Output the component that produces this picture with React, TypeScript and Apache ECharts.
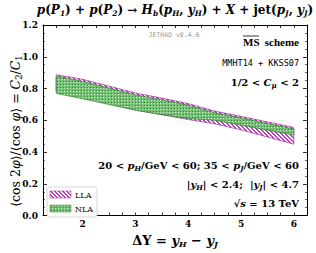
import React, { useEffect, useRef } from "react";
import * as echarts from "echarts";

const X_VALUES = [1.5, 2, 2.5, 3, 3.5, 4, 4.5, 5, 5.5, 6];
const LLA_HIGH = [0.887, 0.858, 0.815, 0.772, 0.74, 0.705, 0.658, 0.625, 0.59, 0.555];
const LLA_LOW = [0.78, 0.745, 0.705, 0.665, 0.635, 0.605, 0.578, 0.54, 0.495, 0.45];
const NLA_HIGH = [0.878, 0.845, 0.803, 0.76, 0.73, 0.695, 0.648, 0.615, 0.58, 0.545];
const NLA_LOW = [0.77, 0.735, 0.7, 0.663, 0.636, 0.612, 0.6, 0.57, 0.538, 0.507];
const Y_TICKS = [0, 0.2, 0.4, 0.6, 0.8, 1.0, 1.2];
const X_TICK_LABELS = [2, 3, 4, 5, 6];

const SERIF = "'DejaVu Serif', 'Liberation Serif', serif";
const TIMES = "'Liberation Serif', 'DejaVu Serif', serif";
const MONO = "'DejaVu Sans Mono', 'Liberation Mono', monospace";

function makeLLAPattern() {
  const c = document.createElement("canvas");
  c.width = 4;
  c.height = 4;
  const ctx = c.getContext("2d")!;
  ctx.fillStyle = "#ffffff";
  ctx.fillRect(0, 0, 4, 4);
  ctx.fillStyle = "#c040c0";
  for (let i = 0; i < 4; i++) {
    ctx.fillRect(i, i, 1, 1);
    ctx.fillRect(i, (i + 1) % 4, 1, 1);
  }
  return c;
}

function makeNLAPattern() {
  const c = document.createElement("canvas");
  c.width = 3;
  c.height = 3;
  const ctx = c.getContext("2d")!;
  ctx.fillStyle = "#74c074";
  ctx.fillRect(0, 0, 3, 3);
  ctx.fillStyle = "#d0ead0";
  ctx.fillRect(1, 1, 1, 1);
  ctx.fillStyle = "#3a883a";
  ctx.fillRect(0, 0, 1, 1);
  return c;
}

export default function App() {
  const ref = useRef<HTMLDivElement>(null);
  useEffect(() => {
    if (!ref.current) return;
    const chart = echarts.init(ref.current, undefined, { renderer: "svg" });
    const llaPat = { image: makeLLAPattern(), repeat: "repeat" } as any;
    const nlaPat = { image: makeNLAPattern(), repeat: "repeat" } as any;

    const bold = { fontFamily: SERIF, fontWeight: "bold" as const, fontSize: 10, color: "#000" };
    const sub = { fontFamily: SERIF, fontWeight: "bold" as const, fontStyle: "italic" as const, fontSize: 7, color: "#000", verticalAlign: "bottom" as const, lineHeight: 8 };
    const it = { fontFamily: SERIF, fontWeight: "bold" as const, fontStyle: "italic" as const, fontSize: 10, color: "#000", lineHeight: 13 };
    const rm = { ...bold, lineHeight: 13 };

    const xAxisBase = {
      type: "value" as const,
      min: 1.25,
      max: 6.25,
      interval: 0.25,
      splitLine: { show: false },
      axisLine: { show: true, onZero: false, lineStyle: { color: "#000", width: 1 } },
      axisTick: { show: true, inside: true, length: 3, lineStyle: { color: "#000", width: 0.8 } },
    };
    const yAxisBase = {
      type: "value" as const,
      min: 0,
      max: 1.2,
      interval: 0.2,
      splitLine: { show: false },
      axisLine: { show: true, onZero: false, lineStyle: { color: "#000", width: 1 } },
      axisTick: { show: true, inside: true, length: 4, lineStyle: { color: "#000", width: 0.8 } },
      minorTick: { show: true, splitNumber: 4, length: 2, lineStyle: { color: "#000", width: 0.6 } },
    };

    const band = (name: string, low: number[], high: number[], edge: string, pat: any, z: number) => ({
      type: "custom",
      name,
      z,
      silent: true,
      data: X_VALUES.map((x, i) => [x, low[i], high[i]]),
      encode: { x: 0, y: [1, 2] },
      renderItem: (params: any, api: any) => {
        if (params.dataIndex !== 0) return { type: "group", children: [] };
        const top = X_VALUES.map((x, i) => api.coord([x, high[i]]));
        const bot = X_VALUES.map((x, i) => api.coord([x, low[i]])).reverse();
        return {
          type: "polygon",
          shape: { points: [...top, ...bot] },
          style: { fill: pat, stroke: edge, lineWidth: 0.7 },
        };
      },
    });

    chart.setOption({
      animation: false,
      grid: { left: 43, right: 9, top: 25, bottom: 31 },
      xAxis: [
        {
          ...xAxisBase,
          position: "bottom",
          axisLabel: {
            margin: 4,
            fontFamily: SERIF,
            fontWeight: "bold",
            fontSize: 9,
            color: "#000",
            formatter: (v: number) => (X_TICK_LABELS.includes(v) ? String(v) : ""),
          },
          name: "{b|ΔY = }{i|y}{s|H}{b| − }{i|y}{s|J}",
          nameLocation: "middle",
          nameGap: 12,
          nameTextStyle: {
            rich: {
              b: { fontFamily: SERIF, fontWeight: "bold", fontSize: 13, color: "#000", lineHeight: 16 },
              i: { fontFamily: SERIF, fontWeight: "bold", fontStyle: "italic", fontSize: 13, color: "#000", lineHeight: 16 },
              s: { fontFamily: SERIF, fontWeight: "bold", fontStyle: "italic", fontSize: 8, color: "#000", verticalAlign: "bottom", lineHeight: 10 },
            },
          },
        },
        { ...xAxisBase, position: "top", axisLabel: { show: false } },
      ],
      yAxis: [
        {
          ...yAxisBase,
          position: "left",
          axisLabel: {
            margin: 5,
            fontFamily: SERIF,
            fontWeight: "bold",
            fontSize: 9,
            color: "#000",
            formatter: (v: number) => (Y_TICKS.some((t) => Math.abs(t - v) < 1e-6) ? v.toFixed(1) : ""),
          },
        },
        { ...yAxisBase, position: "right", axisLabel: { show: false } },
      ],
      series: [
        band("LLA", LLA_LOW, LLA_HIGH, "#a02aa0", llaPat, 2),
        band("NLA", NLA_LOW, NLA_HIGH, "#2f7f2f", nlaPat, 3),
      ],
      graphic: [
        {
          type: "text",
          x: 15,
          y: 131,
          rotation: Math.PI / 2,
          z: 10,
          style: {
            text: "{n|⟨cos 2}{i|φ}{n|⟩/⟨cos }{i|φ}{n|⟩ = }{i|C}{s|2}{n|/}{i|C}{s|1}",
            align: "center",
            verticalAlign: "middle",
            rich: {
              n: { fontFamily: SERIF, fontSize: 12.5, fill: "#000", lineHeight: 16 },
              i: { fontFamily: SERIF, fontStyle: "italic", fontSize: 12.5, fill: "#000", lineHeight: 16 },
              s: { fontFamily: SERIF, fontSize: 8.5, fill: "#000", verticalAlign: "bottom", lineHeight: 11 },
            },
          },
        },
        {
          type: "text",
          x: 175,
          y: 10,
          z: 10,
          style: {
            text:
              "{i|p}{n|(}{i|P}{s|1}{n|) + }{i|p}{n|(}{i|P}{s|2}{n|) → }{i|H}{s|b}{n|(}{i|p}{s|H}{n|, }{i|y}{s|H}{n|) + }{i|X}{n| + jet(}{i|p}{s|J}{n|, }{i|y}{s|J}{n|)}",
            align: "center",
            verticalAlign: "middle",
            rich: {
              n: { fontFamily: SERIF, fontWeight: "bold", fontSize: 12, fill: "#000", lineHeight: 14 },
              i: { fontFamily: SERIF, fontWeight: "bold", fontStyle: "italic", fontSize: 12, fill: "#000", lineHeight: 14 },
              s: { fontFamily: SERIF, fontWeight: "bold", fontStyle: "italic", fontSize: 7.5, fill: "#000", verticalAlign: "bottom", lineHeight: 9 },
            },
          },
        },
        {
          type: "text",
          x: 174,
          y: 35,
          z: 10,
          style: { text: "JETHAD v0.4.6", align: "center", verticalAlign: "middle", fontFamily: MONO, fontSize: 6.5, fill: "#999" },
        },
        {
          type: "text",
          x: 243,
          y: 42,
          z: 10,
          style: { text: "MS", align: "left", verticalAlign: "middle", fontFamily: TIMES, fontWeight: "bold", fontSize: 11, fill: "#000" },
        },
        { type: "line", z: 10, shape: { x1: 243, y1: 36, x2: 259, y2: 36 }, style: { stroke: "#000", lineWidth: 0.8 } },
        {
          type: "text",
          x: 299,
          y: 42,
          z: 10,
          style: { text: "scheme", align: "right", verticalAlign: "middle", fontFamily: TIMES, fontWeight: "bold", fontSize: 11, fill: "#000" },
        },
        {
          type: "text",
          x: 299,
          y: 62.5,
          z: 10,
          style: { text: "MMHT14 + KKSS07", align: "right", verticalAlign: "middle", fontFamily: MONO, fontSize: 8.5, fill: "#000" },
        },
        {
          type: "text",
          x: 299,
          y: 82.5,
          z: 10,
          style: { text: "{n|1/2 < }{i|C}{s|μ}{n| < 2}", align: "right", verticalAlign: "middle", rich: { n: rm, i: it, s: sub } },
        },
        {
          type: "text",
          x: 299,
          y: 165,
          z: 10,
          style: {
            text: "{n|20 < }{i|p}{s|H}{n|/GeV < 60; 35 < }{i|p}{s|J}{n|/GeV < 60}",
            align: "right",
            verticalAlign: "middle",
            rich: { n: rm, i: it, s: sub },
          },
        },
        {
          type: "text",
          x: 299,
          y: 184,
          z: 10,
          style: {
            text: "{n||}{i|y}{s|H}{n|| < 2.4;  |}{i|y}{s|J}{n|| < 4.7}",
            align: "right",
            verticalAlign: "middle",
            rich: { n: rm, i: it, s: sub },
          },
        },
        {
          type: "text",
          x: 299,
          y: 203,
          z: 10,
          style: { text: "{n|√}{i|s}{n| = 13 TeV}", align: "right", verticalAlign: "middle", rich: { n: rm, i: it } },
        },
        {
          type: "rect",
          z: 10,
          shape: { x: 47, y: 187, width: 50, height: 30, r: 2 },
          style: { fill: "#fff", stroke: "#ccc", lineWidth: 0.8 },
        },
        { type: "rect", z: 11, shape: { x: 50, y: 191, width: 21, height: 7 }, style: { fill: llaPat, stroke: "#a02aa0", lineWidth: 0.5 } },
        { type: "rect", z: 11, shape: { x: 50, y: 205, width: 21, height: 7 }, style: { fill: nlaPat, stroke: "#2f7f2f", lineWidth: 0.5 } },
        {
          type: "text",
          x: 75,
          y: 195,
          z: 11,
          style: { text: "LLA", align: "left", verticalAlign: "middle", fontFamily: SERIF, fontSize: 8, fill: "#000" },
        },
        {
          type: "text",
          x: 75,
          y: 209,
          z: 11,
          style: { text: "NLA", align: "left", verticalAlign: "middle", fontFamily: SERIF, fontSize: 8, fill: "#000" },
        },
      ],
    });
    return () => chart.dispose();
  }, []);
  return <div ref={ref} style={{ width: 316, height: 253, position: "absolute", left: 0, top: 0 }} />;
}
